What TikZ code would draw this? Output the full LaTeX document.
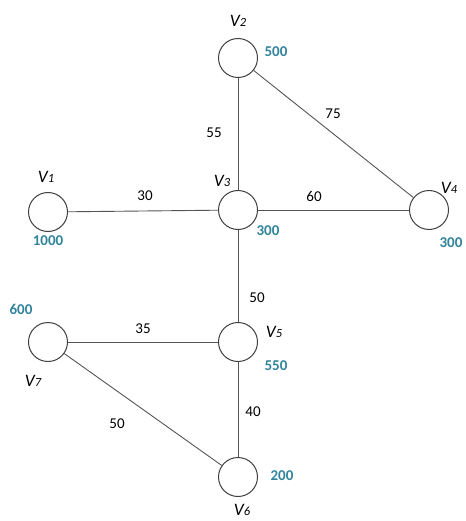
\documentclass[tikz,border=0pt]{standalone}
\usepackage{fontspec}
\setmainfont{Carlito}
\definecolor{supply}{RGB}{49,132,155}
\definecolor{edgegray}{RGB}{85,85,85}
\definecolor{ringgray}{RGB}{65,65,65}
\newcommand{\vlab}[1]{V\fontsize{12.5}{12.5}\selectfont #1}
\begin{document}
\begin{tikzpicture}[x=1pt,y=-1pt,
  vertex/.style={circle,draw=ringgray,line width=1pt,fill=white,minimum size=39pt,inner sep=0pt},
  link/.style={draw=edgegray,line width=0.9pt},
  vname/.style={font=\itshape\fontsize{17.5}{17.5}\selectfont,inner sep=0pt},
  amount/.style={font=\bfseries\fontsize{15}{15}\selectfont,text=supply,inner sep=0pt},
  weight/.style={font=\fontsize{15}{15}\selectfont,inner sep=0pt}]
\useasboundingbox (0,0) rectangle (465,521);

% vertices
\node[vertex] (v2) at (238,58) {};
\node[vertex] (v1) at (48,212) {};
\node[vertex] (v3) at (238,210) {};
\node[vertex] (v4) at (429,210) {};
\node[vertex] (v7) at (48,342) {};
\node[vertex] (v5) at (238,342) {};
\node[vertex] (v6) at (238,477) {};

% edges
\path[link] (v2) -- (v3);
\path[link] (v2) -- (v4);
\path[link] (v1) -- (v3);
\path[link] (v3) -- (v4);
\path[link] (v3) -- (v5);
\path[link] (v7) -- (v5);
\path[link] (v7) -- (v6);
\path[link] (v5) -- (v6);

% edge weights
\node[weight] (w23) at (214,133) {55};
\node[weight] (w24) at (333,114) {75};
\node[weight] (w13) at (145,196) {30};
\node[weight] (w34) at (314,196) {60};
\node[weight] (w35) at (257,298) {50};
\node[weight] (w75) at (143,329) {35};
\node[weight] (w76) at (117,424) {50};
\node[weight] (w56) at (253,412) {40};

% vertex names
\node[vname] (n2) at (238,21) {\vlab{2}};
\node[vname] (n1) at (46,177) {\vlab{1}};
\node[vname] (n3) at (222,181) {\vlab{3}};
\node[vname] (n4) at (449,188) {\vlab{4}};
\node[vname] (n7) at (33,381) {\vlab{7}};
\node[vname] (n5) at (274,332) {\vlab{5}};
\node[vname] (n6) at (242,510) {\vlab{6}};

% supplies / demands
\node[amount] (a2) at (276,52) {500};
\node[amount] (a1) at (48,241) {1000};
\node[amount] (a3) at (268,231) {300};
\node[amount] (a4) at (451,243) {300};
\node[amount] (a7) at (21,309) {600};
\node[amount] (a5) at (276,366) {550};
\node[amount] (a6) at (282,476) {200};
\end{tikzpicture}
\end{document}
